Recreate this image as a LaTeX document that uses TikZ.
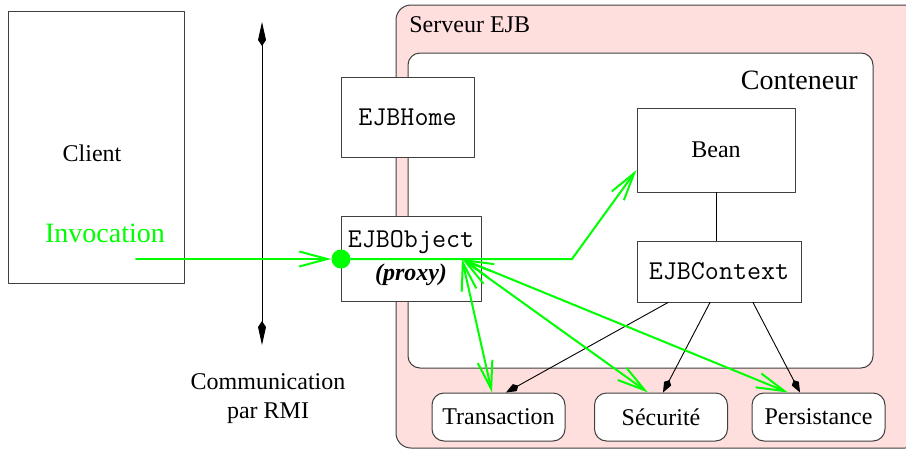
\documentclass[tikz,border=0pt,12pt]{standalone}
\usepackage{fontspec}
\setmainfont{Liberation Serif}
\usetikzlibrary{arrows.meta}
\definecolor{vert}{RGB}{0,255,0}
\definecolor{rose}{RGB}{255,222,222}

\begin{document}
\begin{tikzpicture}[x=0.5pt, y=-0.5pt, line join=round, line cap=round,
	boite/.style={draw=black!75, line width=0.5pt, fill=white, inner sep=0pt},
	service/.style={boite, rounded corners=6pt, minimum width=66.5pt, minimum height=24pt},
	code/.style={font=\fontsize{13.6}{16}\selectfont\ttfamily},
	appel/.style={draw=vert, line width=1pt},
	barbe/.style={-{Straight Barb[length=14pt,width=7.5pt]}},
	barbes/.style={{Straight Barb[length=14pt,width=7.5pt]}-{Straight Barb[length=14pt,width=7.5pt]}},
	lien/.style={line width=0.45pt, -{Kite[length=7pt,width=4pt,inset=2pt]}}]
	\useasboundingbox (0,0) rectangle (906,450);
	
	% Serveur et conteneur
	\draw[draw=black!75, line width=0.5pt, fill=rose, rounded corners=7.5pt] (396,5) rectangle (920,448);
	\node[anchor=west] (serveur) at (401,25) {Serveur EJB};
	\draw[draw=black!75, line width=0.5pt, fill=white, rounded corners=6pt] (408,53) rectangle (873,368);
	\node[anchor=east, font=\fontsize{14}{17}\selectfont] (conteneur) at (866,80) {Conteneur};
	
	% Client
	\node[boite, minimum width=88pt, minimum height=136pt] (client) at (96,147) {};
	\node (clienttxt) at (92,153) {Client};
	\node[text=vert, font=\fontsize{14}{17}\selectfont] (invocation) at (105,233) {Invocation};
	\coordinate (inv) at (136,259);
	
	% Communication par RMI
	\coordinate (rmihaut) at (262,22);
	\coordinate (rmibas) at (262,345);
	\draw[line width=0.5pt, {Kite[length=12pt,width=4pt,inset=3pt]}-{Kite[length=12pt,width=4pt,inset=3pt]}] (rmihaut) -- (rmibas);
	\node[align=center] (rmi) at (268,399) {Communication\\par RMI};
	
	% Les boites
	\node[boite, minimum width=66.5pt, minimum height=40pt, code] (home) at (407.5,117) {EJBHome};
	\node[boite, minimum width=70pt, minimum height=42.5pt, align=center] (objet) at (411,258.5) {{\fontsize{13.6}{16}\selectfont\ttfamily EJBObject}\\[2pt] \textit{\textbf{(proxy)}}};
	\node[boite, minimum width=79pt, minimum height=42pt] (bean) at (716,150) {Bean};
	\node[boite, minimum width=82pt, minimum height=30.5pt, code] (contexte) at (719,271.5) {EJBContext};
	\draw[line width=0.5pt] (bean.south) -- (bean.south |- contexte.north);
	
	% Services
	\node[service] (trans) at (498.5,417) {Transaction};
	\node[service] (secu) at (661,417) {Sécurité};
	\node[service] (pers) at (818.5,417) {Persistance};
	
	\draw[lien] ([xshift=-25.5pt]contexte.south) -- ([xshift=3.75pt]trans.north);
	\draw[lien] ([xshift=-4.5pt]contexte.south) -- ([xshift=1pt]secu.north);
	\draw[lien] ([xshift=17pt]contexte.south) -- ([xshift=-9.25pt]pers.north);
	
	% Invocation
	\node[circle, fill=vert, minimum size=9.5pt, inner sep=0pt] (point) at (341,259) {};
	\coordinate (coude) at (572,259);
	\coordinate (proxy) at (462,259);
	\draw[appel, barbe] (inv) -- (point);
	\draw[appel, barbe] (point) -- (coude) -- ([yshift=-10pt]bean.west);
	\draw[appel, barbes] (proxy) -- ([xshift=-3.25pt]trans.north);
	\draw[appel, barbes] (proxy) -- ([xshift=-6.5pt]secu.north);
	\draw[appel, barbes] (proxy) -- ([xshift=-15.25pt]pers.north);
\end{tikzpicture}
\end{document}
